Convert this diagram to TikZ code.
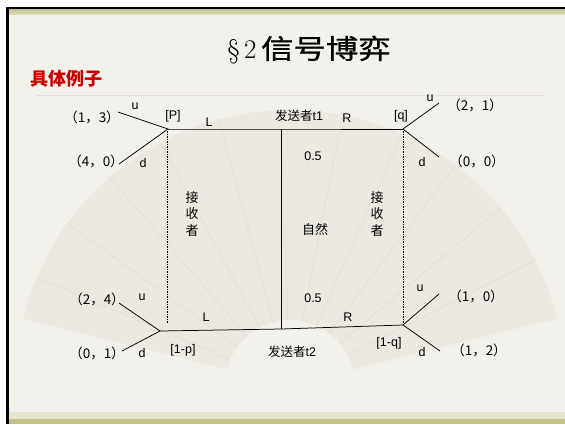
\documentclass[tikz,border=0pt]{standalone}
\usepackage{fontspec}
\usepackage{graphicx}
\newfontfamily\cjk{Noto Sans CJK SC}
\newfontfamily\cjkt[FakeBold=0.8]{Noto Sans CJK SC}
\newfontfamily\arial{Liberation Sans}
\definecolor{bgc}{HTML}{F3F1EB}
\definecolor{fanc}{HTML}{EBE9E2}
\definecolor{ribc}{HTML}{E4E2DA}
\definecolor{olive}{HTML}{C3C08C}
\definecolor{olivelt}{HTML}{DCDDB8}
\definecolor{redt}{HTML}{CC0000}
\definecolor{sepc}{HTML}{E2E0D9}
\tikzset{
  lbl/.style={font=\arial\fontsize{12.5}{14}\selectfont, inner sep=0pt},
  pay/.style={font=\cjk\fontsize{13.5}{15}\selectfont, inner sep=0pt},
  cj/.style={font=\cjk\fontsize{13}{16.5}\selectfont, inner sep=0pt, align=center},
  tree/.style={draw=black, line width=0.75pt},
  dotline/.style={draw=black, line width=0.6pt, dash pattern=on 2pt off 1.2pt on 0.6pt off 1.2pt},
}
\begin{document}
\begin{tikzpicture}[x=1pt,y=-1pt]
\useasboundingbox (0,0) rectangle (565,424);
% page background
\fill[white] (0,0) rectangle (565,424);
\fill[bgc] (6,7) rectangle (565,424);
% faint fan (angles negative because the y axis points down)
\begin{scope}
\clip (9,14) rectangle (565,419);
\fill[fanc] (290,385) ++(-14:275) arc[start angle=-14, end angle=-166, radius=275]
  -- ++(14:210) arc[start angle=-166, end angle=-14, radius=65] -- cycle;
\foreach \a in {27,40,53,66,79,92,105,118,131,144,157}
  \draw[ribc, line width=1pt] (290,385) ++(-\a:65) -- ++(-\a:210);
\end{scope}
% bands and borders
\shade[top color=olive, bottom color=olivelt] (9,9) rectangle (565,14);
\fill[olivelt!60!bgc] (9,412) rectangle (565,419);
\fill[olive] (9,419) rectangle (565,424);
\fill[black] (6,7) rectangle (565,9);
\fill[black] (6,7) rectangle (9,424);
% separator
\draw[sepc, line width=1pt] (36,95) -- (544,95);
% title
\node[inner sep=0pt] (title) at (309,50) {\fontsize{27}{30}\selectfont\S\,2\,\scalebox{1.2}[1]{\cjkt 信号博弈}};
\node[inner sep=0pt, text=redt, font=\cjk\bfseries\fontsize{18}{20}\selectfont] (sub) at (66,79) {具体例子};
% tree nodes
\coordinate (P) at (168,129);
\coordinate (Q) at (403,129);
\coordinate (MT) at (281,129);
\coordinate (MB) at (281,329);
\coordinate (BL) at (160,331);
\coordinate (BR) at (403,325);
\coordinate (PU) at (118,112);
\coordinate (PD) at (119,164);
\coordinate (QU) at (439,103);
\coordinate (QD) at (439,157);
\coordinate (BLU) at (119,303);
\coordinate (BLD) at (122,351);
\coordinate (BRU) at (439,294);
\coordinate (BRD) at (440,351);
\coordinate (PL) at (167,131);
\coordinate (PLb) at (167,324);
\coordinate (QL) at (403,131);
\coordinate (QLb) at (403,323);
\draw[tree] (P) -- (MT) -- (Q);
\draw[tree] (MT) -- (MB);
\draw[tree] (BL) -- (MB) -- (BR);
\draw[tree] (PU) -- (P) -- (PD);
\draw[tree] (QU) -- (Q) -- (QD);
\draw[tree] (BLU) -- (BL) -- (BLD);
\draw[tree] (BRU) -- (BR) -- (BRD);
\draw[dotline] (PL) -- (PLb);
\draw[dotline] (QL) -- (QLb);
% labels top
\node[pay] (p13) at (92,117) {（1，3）};
\node[lbl] (u1) at (135,106) {u};
\node[lbl] (lp) at (173,116) {[P]};
\node[lbl] (L1) at (209,122) {L};
\node[lbl] (t1) at (299,116) {{\cjk 发送者}t1};
\node[lbl] (R1) at (347,118) {R};
\node[lbl] (lq) at (401,116) {[q]};
\node[lbl] (u2) at (430,98) {u};
\node[pay] (p21) at (475,105) {（2，1）};
\node[pay] (p40) at (96,161) {（4，0）};
\node[lbl] (d1) at (143,163) {d};
\node[lbl] (h1) at (313,156) {0.5};
\node[lbl] (d2) at (422,162) {d};
\node[pay] (p00) at (477,161) {（0，0）};
% middle
\node[cj] (rec1) at (192,214) {接\\收\\者};
\node[cj] (rec2) at (377,214) {接\\收\\者};
\node[cj] (nat) at (315,230) {自然};
% bottom
\node[pay] (p24) at (97,299) {（2，4）};
\node[lbl] (u3) at (142,297) {u};
\node[lbl] (h2) at (313,298) {0.5};
\node[lbl] (L2) at (206,317) {L};
\node[lbl] (R2) at (348,317) {R};
\node[lbl] (u4) at (420,288) {u};
\node[pay] (p10) at (476,296) {（1，0）};
\node[pay] (p01) at (97,353) {（0，1）};
\node[lbl] (d3) at (142,353) {d};
\node[lbl] (lp2) at (183,350) {[1-p]};
\node[lbl] (t2) at (292,352) {{\cjk 发送者}t2};
\node[lbl] (lq2) at (389,343) {[1-q]};
\node[lbl] (d4) at (422,352) {d};
\node[pay] (p12) at (479,350) {（1，2）};
\end{tikzpicture}
\end{document}
